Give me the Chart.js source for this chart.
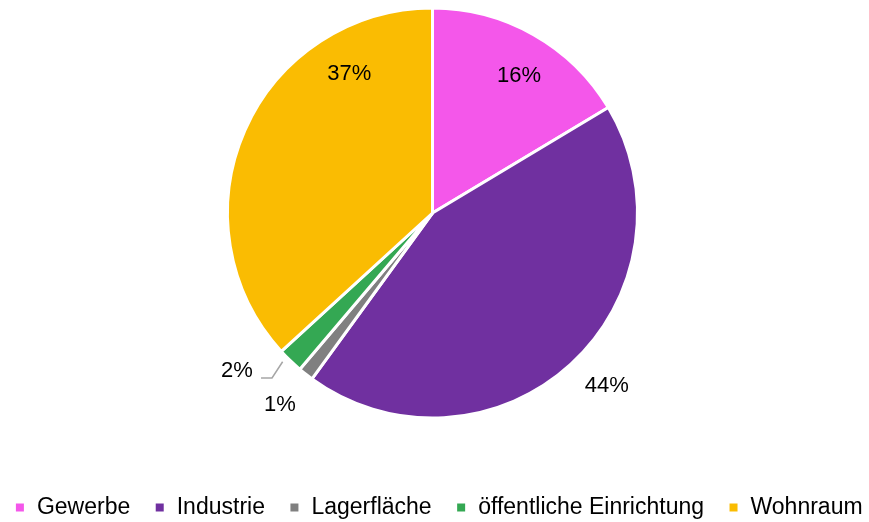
<!DOCTYPE html>
<html>
<head>
<meta charset="utf-8">
<script src="https://cdn.jsdelivr.net/npm/chart.js@4.4.1/dist/chart.umd.min.js"></script>
<style>
  html, body { margin: 0; padding: 0; background: #fff; overflow: hidden; }
  #wrap { position: relative; left: -2px; width: 869px; height: 522px; }
</style>
</head>
<body>
<div id="wrap"><canvas id="pieChart"></canvas></div>
<script>
// Categories and shares
const categories = ["Gewerbe", "Industrie", "Lagerfläche", "öffentliche Einrichtung", "Wohnraum"];
const shares = [16.4, 43.6, 1.2, 2.0, 36.8];
const colors = ["#F457EA", "#7030A0", "#808080", "#34A853", "#FABC02"];

// Label placement: fraction along the slice angle, radius factor
const labelPlace = [
  { frac: 0.54, k: 0.80 },
  { frac: 0.48, k: 1.19 },
  { frac: 0.63, k: 1.19 },
  { frac: 1.54, k: 1.22, leader: true },
  { frac: 0.77, k: 0.80 },
];

// Draw percent labels from the arc geometry
const pctLabels = {
  id: "pctLabels",
  afterDatasetsDraw(chart) {
    const ctx = chart.ctx;
    const meta = chart.getDatasetMeta(0);
    const total = shares.reduce((a, b) => a + b, 0);
    ctx.save();
    ctx.font = "22px 'Liberation Sans', Arial, sans-serif";
    ctx.fillStyle = "#000";
    ctx.textAlign = "center";
    ctx.textBaseline = "middle";
    meta.data.forEach((arc, i) => {
      const p = arc.getProps(["x", "y", "startAngle", "endAngle", "outerRadius"], true);
      const place = labelPlace[i];
      const a = p.startAngle + place.frac * (p.endAngle - p.startAngle);
      const lx = p.x + Math.cos(a) * p.outerRadius * place.k;
      const ly = p.y + Math.sin(a) * p.outerRadius * place.k;
      const txt = Math.round((shares[i] / total) * 100) + "%";
      ctx.fillText(txt, lx, ly + 2);
      if (place.leader) {
        const a0 = p.startAngle + 0.68 * (p.endAngle - p.startAngle);
        const sx = p.x + Math.cos(a0) * p.outerRadius * 1.03;
        const sy = p.y + Math.sin(a0) * p.outerRadius * 1.03;
        ctx.beginPath();
        ctx.strokeStyle = "#A6A6A6";
        ctx.lineWidth = 1.5;
        ctx.moveTo(sx, sy);
        ctx.lineTo(lx + 35, ly + 9);
        ctx.lineTo(lx + 24, ly + 9);
        ctx.stroke();
      }
    });
    ctx.restore();
  },
};

const ctx = document.getElementById("pieChart").getContext("2d");
const myChart = new Chart(ctx, {
  type: "pie",
  data: {
    labels: categories,
    datasets: [
      {
        data: shares,
        backgroundColor: colors,
        borderColor: "#ffffff",
        borderWidth: 3,
        hoverOffset: 0,
        radius: 205,
      },
    ],
  },
  options: {
    responsive: true,
    maintainAspectRatio: false,
    animation: false,
    layout: { padding: { top: 0, bottom: -7, left: -14, right: -26 } },
    plugins: {
      tooltip: { enabled: false },
      legend: {
        display: true,
        position: "bottom",
        title: { display: true, text: "", padding: { top: 31.6, bottom: 0 }, font: { size: 12 } },
        labels: {
          boxWidth: 11,
          boxHeight: 11,
          padding: 24,
          color: "#000",
          font: { size: 23, family: "'Liberation Sans', Arial, sans-serif" },
        },
      },
    },
  },
  plugins: [pctLabels],
});
</script>
</body>
</html>
